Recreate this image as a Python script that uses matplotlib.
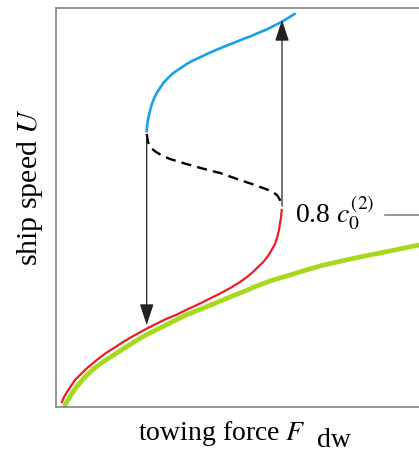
import matplotlib
matplotlib.use("Agg")
import matplotlib.pyplot as plt

plt.rcParams['font.family'] = ['Liberation Serif', 'DejaVu Serif']
plt.rcParams['mathtext.fontset'] = 'stix'

# stable upper branch (blue)
upper_F = [90.7, 91.2, 92.3, 94, 95.7, 98, 100.7, 104, 107.3, 112, 117.3, 124, 130.7, 137,
           144, 152, 160.7, 169, 177.3, 185.5, 194, 202, 210.7, 218, 226, 232, 238.5]
upper_U = [275.7, 282, 289, 296, 302.3, 308.5, 314, 319, 324, 329, 334, 338.5, 343, 346.5,
           349.7, 353.5, 357.3, 360.7, 364, 367.3, 370.5, 374, 377.5, 381.2, 385.4, 389, 393]
# unstable middle branch (dashed)
mid_F = [90.7, 92, 95, 100, 107, 114, 127, 141, 154, 164, 174, 184, 196, 207, 215, 221, 224, 225.5]
mid_U = [273, 265, 259, 255, 251, 248, 244, 240, 236.5, 234, 230.5, 227, 223, 219, 216, 212, 207, 201]
# stable lower branch (red)
low_F = [225.7, 225, 224, 223, 221.3, 219, 215.7, 212, 207.3, 202, 197, 191, 184, 176, 167,
         159, 151, 141, 130, 120, 110, 100, 90, 79, 67, 58, 50, 42, 36, 30, 24, 19, 15, 11, 8, 6]
low_U = [197, 189, 184, 177, 170, 163, 157, 151, 145, 140, 135, 130, 125, 120, 115,
         111, 107, 102, 97, 92, 88, 83, 78, 72, 65, 59, 54, 48, 43, 38, 32, 27, 21, 15, 10, 5]
# deep water curve (green)
deep_F = [9, 12, 15, 19, 23, 28, 34, 40, 47, 56, 67, 78, 90, 100, 110, 120, 130, 140, 150,
          162, 174, 189, 202, 214, 234, 247, 264, 281, 297, 314, 339, 363, 377]
deep_U = [2, 7, 12, 18, 23, 29, 35, 40, 45, 51, 58, 65, 72, 77, 82, 87, 92, 96, 100,
          105, 110, 116, 121.5, 126, 132, 136, 141, 145, 148.5, 152, 157, 162, 165]

# jumps
jump_down = ((90.7, 272), (90.7, 82))
jump_up = ((226, 201), (226, 387))
level_U = 192
label_text = r"0.8 $c_0^{(2)}$"

fig = plt.figure(figsize=(4.19, 4.54), dpi=100)
ax = fig.add_axes([56/419, 47/454, 377/419, 399/454])
ax.set_xlim(0, 377)
ax.set_ylim(0, 399)
ax.set_xticks([])
ax.set_yticks([])
for s in ax.spines.values():
    s.set_color('#7a7a7a')
    s.set_linewidth(1.1)

ax.plot(deep_F, deep_U, color='#a6d81c', lw=3.4, solid_capstyle='round',
        solid_joinstyle='round', zorder=2)
ax.plot(low_F, low_U, color='#ee1c24', lw=1.6, solid_joinstyle='round', zorder=3)
ax.plot(upper_F, upper_U, color='#1ba1e2', lw=1.9, solid_joinstyle='round', zorder=3)
ax.plot(mid_F, mid_U, color='black', lw=1.7, ls=(0, (4.3, 2.6)), zorder=3)

for (start, end) in (jump_down, jump_up):
    ax.annotate('', xy=end, xytext=start,
                arrowprops=dict(arrowstyle='-|>,head_length=13,head_width=4.3',
                                mutation_scale=1, color='#222222', lw=0.9,
                                shrinkA=0, shrinkB=0), zorder=4)

ax.text(239, level_U - 8, label_text, fontsize=20, ha='left', va='baseline')
ax.plot([329, 377], [level_U, level_U], color='#7a7a7a', lw=1.1, clip_on=False)

fig.text(30/419, 1 - 187.5/454, r"ship speed $U$", rotation=90, fontsize=21.5,
         ha='center', va='center')
fig.text(138/419, 1 - 440/454, r"towing force $F$", fontsize=20, ha='left', va='baseline')
fig.text(317/419, 1 - 447/454, "dw", fontsize=20, ha='left', va='baseline')

fig.savefig('out.png', dpi=100)
